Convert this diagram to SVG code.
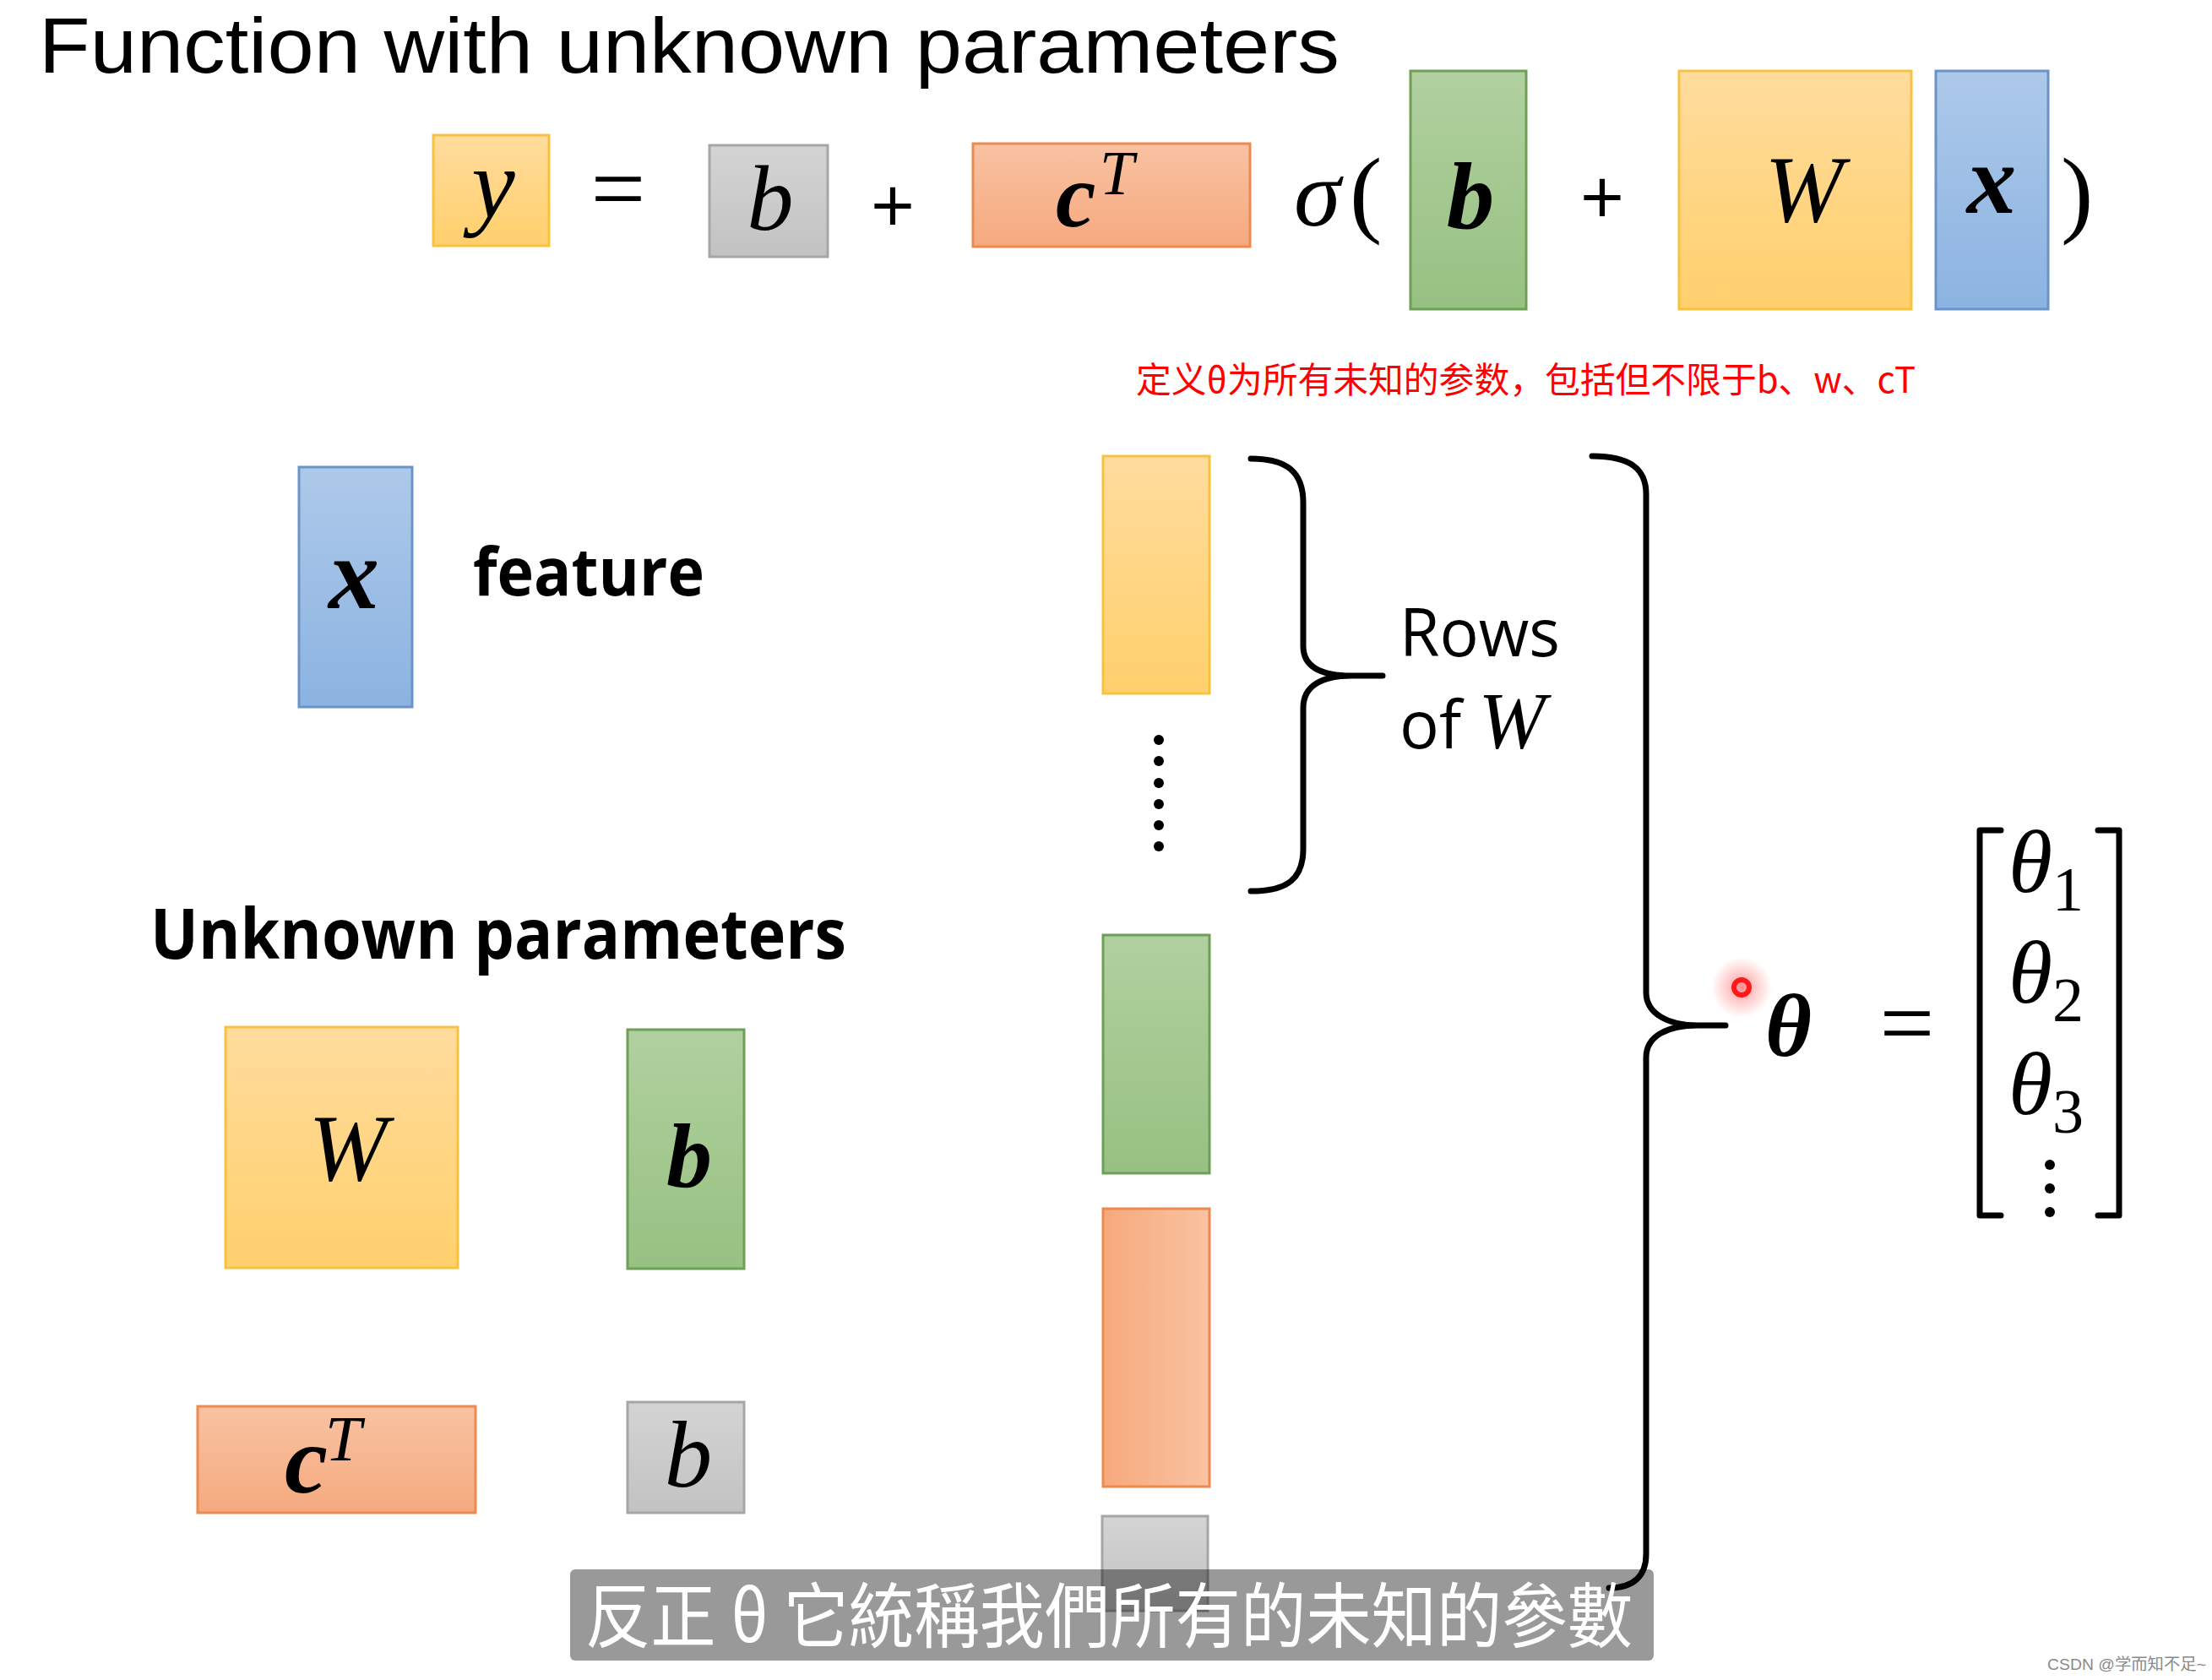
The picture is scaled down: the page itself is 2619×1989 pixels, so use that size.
<svg xmlns="http://www.w3.org/2000/svg" width="2619" height="1989" viewBox="0 0 2619 1989">
<defs>
<linearGradient id="gY" x1="0" y1="0" x2="0" y2="1"><stop offset="0" stop-color="#FFDC9E"/><stop offset="1" stop-color="#FFD06C"/></linearGradient>
<linearGradient id="gG" x1="0" y1="0" x2="0" y2="1"><stop offset="0" stop-color="#B1D09F"/><stop offset="1" stop-color="#97C182"/></linearGradient>
<linearGradient id="gB" x1="0" y1="0" x2="0" y2="1"><stop offset="0" stop-color="#ADC9EA"/><stop offset="1" stop-color="#8CB3E1"/></linearGradient>
<linearGradient id="gO" x1="0" y1="0" x2="0" y2="1"><stop offset="0" stop-color="#F9C2A2"/><stop offset="1" stop-color="#F5A97E"/></linearGradient>
<linearGradient id="gOh" x1="0" y1="0" x2="1" y2="0"><stop offset="0" stop-color="#F7A87C"/><stop offset="1" stop-color="#F9C3A2"/></linearGradient>
<linearGradient id="gK" x1="0" y1="0" x2="0" y2="1"><stop offset="0" stop-color="#D4D4D4"/><stop offset="1" stop-color="#C2C2C2"/></linearGradient>
<radialGradient id="glow"><stop offset="0" stop-color="#FF2A2A" stop-opacity="0.55"/><stop offset="0.5" stop-color="#FF4040" stop-opacity="0.25"/><stop offset="1" stop-color="#FF4040" stop-opacity="0"/></radialGradient>
<style>
.y{fill:url(#gY);stroke:#F8C23E;stroke-width:3}
.g{fill:url(#gG);stroke:#6F9E56;stroke-width:3}
.bl{fill:url(#gB);stroke:#6A93C8;stroke-width:3}
.o{fill:url(#gO);stroke:#EC8A50;stroke-width:3}
.oh{fill:url(#gOh);stroke:#EC8A50;stroke-width:3}
.k{fill:url(#gK);stroke:#A6A6A6;stroke-width:3}
.m{font-family:"Liberation Serif","Times New Roman",serif;font-style:italic;fill:#000}
.mb{font-family:"Liberation Serif","Times New Roman",serif;font-style:italic;font-weight:bold;fill:#000}
.mr{font-family:"Liberation Serif","Times New Roman",serif;fill:#000}
.op{font-family:"Open Sans","Liberation Sans",sans-serif;fill:#000}
.s{font-family:"Open Sans","Liberation Sans",sans-serif;fill:#000}
.sb{font-family:"Open Sans","Liberation Sans",sans-serif;font-weight:bold;fill:#000}
.br{fill:none;stroke:#000;stroke-width:7;stroke-linecap:round;stroke-linejoin:round}
</style>
</defs>
<rect width="2619" height="1989" fill="#FFFFFF"/>

<g id="title"><text x="46" y="86" font-size="92" fill="#000" font-family="'Liberation Sans',Arial,sans-serif" textLength="1540" lengthAdjust="spacingAndGlyphs">Function with unknown parameters</text></g>

<g id="eq-y"><rect class="y" x="513" y="160" width="137" height="131"/><text class="m" x="584" y="257" font-size="116" text-anchor="middle">y</text></g>
<g id="eq-equals"><text class="mr" x="732" y="262" font-size="115" text-anchor="middle">=</text></g>
<g id="eq-b0"><rect class="k" x="840" y="172" width="140" height="132"/><text class="m" x="912" y="272" font-size="110" text-anchor="middle">b</text></g>
<g id="eq-plus1"><text class="op" x="1057" y="276" font-size="92" text-anchor="middle">+</text></g>
<g id="eq-cT"><rect class="o" x="1152" y="170" width="328" height="122"/><text class="mb" x="1250" y="268" font-size="107">c</text><text class="m" x="1302" y="230" font-size="73">T</text></g>
<g id="eq-sigma"><text class="m" x="1532" y="267" font-size="112">σ</text><text class="mr" x="1598" y="266" font-size="115">(</text></g>
<g id="eq-b"><rect class="g" x="1670" y="84" width="137" height="282"/><text class="mb" x="1741" y="270" font-size="113" text-anchor="middle">b</text></g>
<g id="eq-plus2"><text class="op" x="1897" y="266" font-size="92" text-anchor="middle">+</text></g>
<g id="eq-W"><rect class="y" x="1988" y="84" width="275" height="282"/><text class="m" x="2136" y="262" font-size="112" text-anchor="middle">W</text></g>
<g id="eq-x"><rect class="bl" x="2292" y="84" width="133" height="282"/><text class="mb" x="2358" y="252" font-size="117" text-anchor="middle">x</text></g>
<g id="eq-close"><text class="mr" x="2440" y="266" font-size="115">)</text></g>

<g id="note"><text x="1345" y="465" font-size="42" fill="#FF0000" font-family="'Noto Sans CJK SC',sans-serif" textLength="923" lengthAdjust="spacingAndGlyphs">定义θ为所有未知的参数，包括但不限于b、w、cT</text></g>

<g id="feature-x"><rect class="bl" x="354" y="553" width="134" height="284"/><text class="mb" x="419" y="720" font-size="120" text-anchor="middle">x</text></g>
<g id="feature-label"><text class="sb" x="560" y="705" font-size="79" textLength="274" lengthAdjust="spacingAndGlyphs">feature</text></g>

<g id="unknown-label"><text class="sb" x="178" y="1135" font-size="83" textLength="824" lengthAdjust="spacingAndGlyphs">Unknown parameters</text></g>
<g id="param-W"><rect class="y" x="267" y="1216" width="275" height="285"/><text class="m" x="412" y="1397" font-size="112" text-anchor="middle">W</text></g>
<g id="param-b"><rect class="g" x="743" y="1219" width="138" height="283"/><text class="mb" x="816" y="1405" font-size="108" text-anchor="middle">b</text></g>
<g id="param-cT"><rect class="o" x="234" y="1665" width="329" height="126"/><text class="mb" x="337" y="1767" font-size="115">c</text><text class="m" x="385" y="1729" font-size="77">T</text></g>
<g id="param-b0"><rect class="k" x="743" y="1660" width="138" height="131"/><text class="m" x="815" y="1760" font-size="113" text-anchor="middle">b</text></g>

<g id="col-W"><rect class="y" x="1306" y="540" width="126" height="281"/></g>
<g id="col-dots" fill="#000"><circle cx="1372" cy="876" r="6"/><circle cx="1372" cy="901" r="6"/><circle cx="1372" cy="927" r="6"/><circle cx="1372" cy="952" r="6"/><circle cx="1372" cy="977" r="6"/><circle cx="1372" cy="1002" r="6"/></g>
<g id="col-b"><rect class="g" x="1306" y="1107" width="126" height="282"/></g>
<g id="col-c"><rect class="oh" x="1306" y="1431" width="126" height="329"/></g>
<g id="col-b0"><rect class="k" x="1305" y="1795" width="125" height="112"/></g>

<g id="connectors">
<path class="br" d="M1481,543 C1525,543 1543,560 1543,595 L1543,765 C1543,790 1565,800 1600,800 L1637,800 M1600,800 C1565,800 1543,812 1543,838 L1543,1005 C1543,1040 1525,1055 1481,1055"/>
<path class="br" d="M1885,540 C1930,540 1949,555 1949,585 L1949,1175 C1949,1200 1975,1214 2010,1214 L2043,1214 M2010,1214 C1975,1214 1949,1226 1949,1252 L1949,1840 C1949,1865 1935,1880 1905,1880"/>
</g>

<g id="rows-label"><text class="s" x="1657" y="777" font-size="78" textLength="190" lengthAdjust="spacingAndGlyphs">Rows</text><text class="s" x="1657" y="886" font-size="78">of <tspan class="m" font-size="95">W</tspan></text></g>

<g id="pointer"><circle cx="2062" cy="1169" r="36" fill="url(#glow)"/><circle cx="2062" cy="1169" r="9" fill="none" stroke="#FF1A1A" stroke-width="6"/></g>

<g id="theta"><text class="mb" x="2090" y="1250" font-size="106">θ</text></g>
<g id="theta-equals"><text class="mr" x="2258" y="1250" font-size="115" text-anchor="middle">=</text></g>
<g id="theta-vector">
<path class="br" d="M2369,983 L2344,983 L2344,1439 L2369,1439 M2484,983 L2509,983 L2509,1439 L2484,1439" stroke-linecap="butt" stroke-linejoin="miter"/>
<text class="m" x="2378" y="1056" font-size="106">θ<tspan class="mr" font-style="normal" font-size="74" dy="22">1</tspan></text>
<text class="m" x="2378" y="1187" font-size="106">θ<tspan class="mr" font-style="normal" font-size="74" dy="22">2</tspan></text>
<text class="m" x="2378" y="1319" font-size="106">θ<tspan class="mr" font-style="normal" font-size="74" dy="22">3</tspan></text>
<circle cx="2427" cy="1379" r="6"/><circle cx="2427" cy="1407" r="6"/><circle cx="2427" cy="1435" r="6"/>
</g>

<g id="subtitle"><rect x="675" y="1858" width="1283" height="108" rx="6" fill="#000" fill-opacity="0.4"/><text x="693" y="1944" font-size="84" fill="#FFFFFF" font-family="'Noto Sans CJK TC',sans-serif" textLength="1240" lengthAdjust="spacingAndGlyphs">反正 θ 它統稱我們所有的未知的參數</text></g>

<g id="watermark"><text x="2424" y="1977" font-size="19" fill="#8A8A8A" font-family="'Liberation Sans','Noto Sans CJK SC',sans-serif" textLength="188" lengthAdjust="spacingAndGlyphs">CSDN @学而知不足~</text></g>
</svg>
